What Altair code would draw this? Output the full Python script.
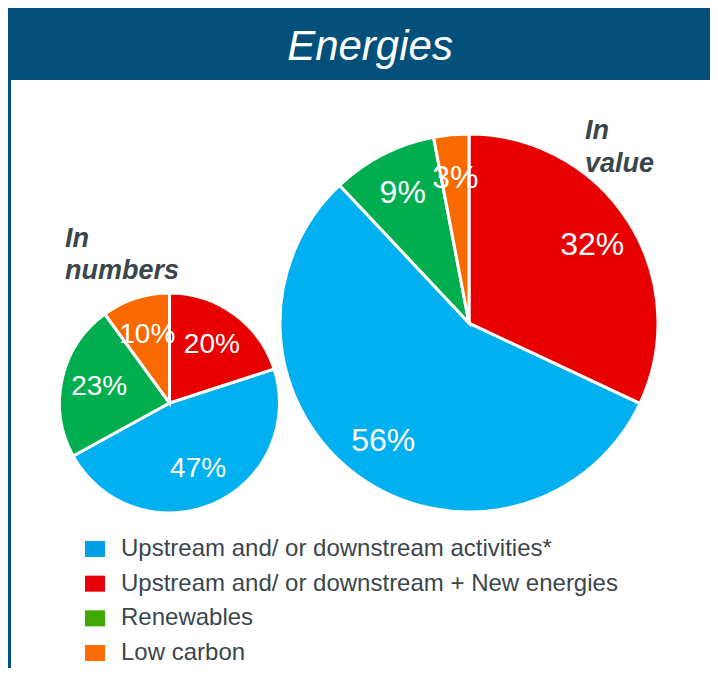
import altair as alt
import pandas as pd

# ---------------- data ----------------
categories = [
    "Upstream and/ or downstream activities*",
    "Upstream and/ or downstream + New energies",
    "Renewables",
    "Low carbon",
]
share_in_numbers = [47, 20, 23, 10]
share_in_value = [56, 32, 9, 3]
slice_order = [1, 0, 2, 3]  # clockwise from 12 o'clock: red, blue, green, orange
title_text = "Energies"
numbers_caption = ["In", "numbers"]
value_caption = ["In", "value"]

# ---------------- styles ----------------
pie_colors = ["#00b0f0", "#e80000", "#00ae4f", "#f86a00"]
legend_colors = ["#009fe6", "#e80008", "#3fa800", "#fc6a00"]
HEADER = "#03507a"
TEXT = "#3b464c"
FONT = "Liberation Sans"

W, H = 702, 660


def pie_df(vals):
    return pd.DataFrame({
        "cat": categories,
        "pct": vals,
        "ord": slice_order,
        "label": [f"{v}%" for v in vals],
    })


color = alt.Color("cat:N", scale=alt.Scale(domain=categories, range=pie_colors), legend=None)


def pie(vals, cx, cy, r, label_r, fs):
    base = alt.Chart(pie_df(vals)).encode(
        theta=alt.Theta("pct:Q", stack=True),
        order=alt.Order("ord:Q"),
        x=alt.value(cx),
        y=alt.value(cy),
    )
    arcs = base.mark_arc(outerRadius=r, stroke="white", strokeWidth=3).encode(color=color)
    labels = base.mark_text(radius=label_r, fontSize=fs, color="white", font=FONT).encode(
        text="label:N"
    )
    return arcs + labels


one = pd.DataFrame({"t": [title_text]})

header = alt.Chart(one).mark_rect(color=HEADER).encode(
    x=alt.value(0), x2=alt.value(W), y=alt.value(-1), y2=alt.value(72)
)
border = alt.Chart(one).mark_rule(color=HEADER, strokeWidth=3).encode(
    x=alt.value(1.5), y=alt.value(72), y2=alt.value(H)
)
title = alt.Chart(one).mark_text(
    font=FONT, fontSize=42, fontStyle="italic", color="white", align="center", baseline="alphabetic"
).encode(x=alt.value(362), y=alt.value(52), text="t:N")

cap_numbers = alt.Chart(one).mark_text(
    font=FONT, fontSize=27, fontStyle="italic", fontWeight="bold", color=TEXT,
    align="left", baseline="alphabetic", lineHeight=32,
).encode(x=alt.value(57), y=alt.value(239), text=alt.value(numbers_caption))

cap_value = alt.Chart(one).mark_text(
    font=FONT, fontSize=27, fontStyle="italic", fontWeight="bold", color=TEXT,
    align="left", baseline="alphabetic", lineHeight=33,
).encode(x=alt.value(577), y=alt.value(131), text=alt.value(value_caption))

small_pie = pie(share_in_numbers, 161.5, 395, 110, 72, 28)
big_pie = pie(share_in_value, 461, 315, 189, 146, 32)

legend_df = pd.DataFrame({"cat": categories, "row": list(range(len(categories))), "lc": legend_colors})
leg_y = alt.Y("row:Q", scale=alt.Scale(domain=[0, 3], range=[541, 645], nice=False, zero=False), axis=None)

leg_marks = alt.Chart(legend_df).mark_point(
    shape="M-1,-0.8L1,-0.8L1,0.8L-1,0.8Z", size=400, filled=True, opacity=1, strokeWidth=0
).encode(x=alt.value(87), y=leg_y, color=alt.Color("lc:N", scale=None))

leg_text = alt.Chart(legend_df).mark_text(
    font=FONT, fontSize=24, color=TEXT, align="left", baseline="middle"
).encode(x=alt.value(113), y=leg_y, text="cat:N")

chart = alt.layer(
    header, border, title, small_pie, big_pie, cap_numbers, cap_value, leg_marks, leg_text
).properties(
    width=W, height=H, autosize="none", padding=0, background="white"
).configure_view(stroke=None)

chart.save("out.html", embed_options={"renderer": "svg", "actions": False})
